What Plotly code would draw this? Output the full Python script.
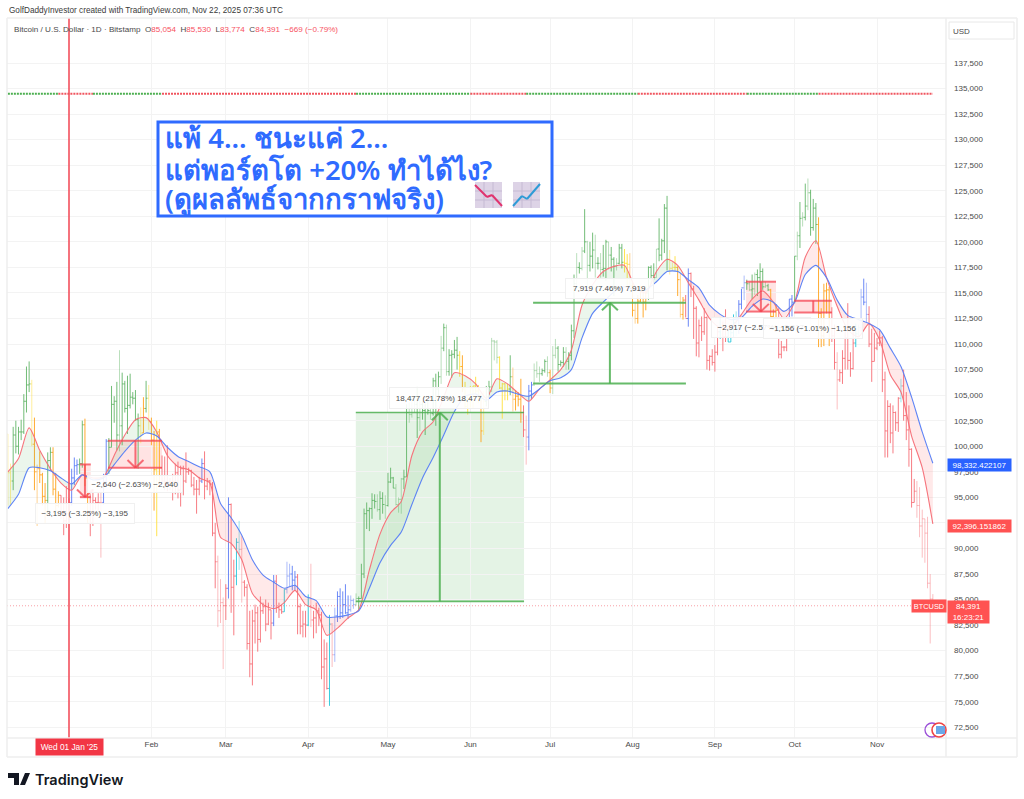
import pandas as pd
import plotly.graph_objects as go

# ---- daily bars, prices in thousands of USD, Dec 9 2024 .. Nov 22 2025 ----
OPEN_K = [
101.2,97.4,96.6,101.1,100.0,101.4,101.4,104.4,106.0,106.1,100.2,97.5,97.8,97.2,95.1,94.7,98.6,99.4,95.8,94.2,95.2,93.6,92.7,
93.4,94.5,96.9,98.1,98.2,98.3,102.1,96.9,95.0,92.5,94.7,94.5,94.5,94.5,96.5,100.5,99.9,104.1,104.4,101.1,102.0,106.1,103.7,104.0,104.8,104.7,102.6,102.0,101.3,103.7,104.7,
102.4,100.6,97.7,101.4,97.9,96.6,96.5,96.5,96.5,96.5,97.4,95.7,97.8,96.6,97.5,97.6,96.2,95.8,95.8,96.6,98.3,96.1,96.6,96.3,91.5,88.7,83.9,84.7,
84.4,86.1,94.3,86.2,87.3,90.6,89.9,86.7,86.2,80.7,78.7,82.9,83.7,81.1,83.9,84.3,82.6,84.0,82.7,86.8,84.2,84.0,83.8,86.0,87.3,87.5,86.9,87.2,84.3,82.4,82.6,
82.5,85.2,83.0,83.2,83.9,83.5,78.4,79.2,76.3,82.6,79.6,83.4,85.3,83.7,84.5,83.7,84.0,84.9,84.5,85.1,85.1,87.5,93.4,93.7,93.9,94.7,94.6,93.8,94.9,94.3,
94.2,96.5,96.9,95.9,94.3,94.8,96.8,97.0,103.3,103.1,104.8,104.1,102.8,104.1,103.5,103.7,103.5,103.2,106.4,105.6,106.8,109.6,111.6,107.3,108.9,109.0,109.4,108.9,107.8,105.6,103.9,
104.6,105.7,105.9,105.4,104.7,101.5,104.4,105.6,105.8,110.3,110.2,108.7,105.7,106.1,105.4,105.6,106.8,104.6,104.9,104.6,103.3,101.6,100.9,105.4,106.0,107.4,107.1,107.1,107.4,108.3,
107.2,105.7,108.9,109.6,108.0,108.2,109.2,108.3,108.9,111.3,115.9,117.5,117.4,119.1,120.0,117.7,118.6,119.2,117.9,117.9,117.3,117.4,120.0,118.7,118.3,117.6,117.9,119.4,118.0,117.9,117.8,
115.7,113.3,112.5,114.2,115.1,114.1,115.0,117.5,116.7,116.5,119.3,118.7,120.1,123.3,118.3,117.4,117.5,117.5,116.3,112.9,114.3,112.5,116.9,115.4,113.5,110.1,111.8,111.2,112.6,108.4,108.8,
108.2,109.2,111.2,111.7,110.7,110.7,110.2,111.1,112.1,111.5,113.9,115.5,116.0,115.9,115.3,115.4,116.8,116.5,117.1,115.6,115.7,115.3,112.7,111.9,113.3,109.0,109.7,109.7,112.1,114.4,
114.1,118.6,120.6,122.3,122.4,123.5,124.8,121.4,123.3,121.7,113.0,110.8,115.2,115.3,113.1,110.8,108.2,106.5,107.2,108.6,110.6,108.4,107.6,110.1,111.0,111.6,114.6,114.1,112.9,110.0,108.3,
109.6,110.1,110.6,106.5,101.5,103.9,101.3,103.3,102.3,104.7,105.9,103.0,101.6,99.7,94.5,95.6,94.2,92.2,92.9,91.5,86.6,85.054]
HIGH_K = [
101.2,98.3,101.9,102.5,101.9,102.6,105.1,107.8,108.3,106.5,102.8,98.2,99.5,97.4,96.4,99.4,99.9,99.9,97.4,95.6,95.2,95.0,96.1,
94.9,97.8,98.9,98.7,98.8,102.5,102.7,97.2,95.3,95.8,95.0,95.4,95.9,97.3,100.7,100.8,105.9,104.9,106.3,109.4,107.2,106.4,106.9,107.1,105.3,105.5,103.2,103.8,104.8,106.4,106.0,
102.8,101.5,102.5,101.7,99.1,99.0,100.1,96.9,97.3,98.3,98.5,98.1,98.1,99.4,97.9,97.7,97.0,96.7,97.0,98.8,99.5,96.9,96.7,96.5,92.5,89.3,87.0,85.2,
86.5,95.0,94.4,88.9,91.0,92.7,91.2,86.9,86.5,83.9,84.0,84.5,84.3,85.3,84.7,85.0,84.7,84.0,87.4,87.4,84.7,84.5,86.0,88.7,88.5,88.3,87.8,87.5,84.6,83.9,83.9,
85.5,88.5,83.9,84.7,84.2,83.8,81.1,80.8,83.5,82.7,84.2,85.8,86.1,85.8,86.5,85.4,85.4,85.1,85.6,85.3,88.5,93.9,94.5,94.0,95.4,95.3,95.3,95.6,95.5,95.2,
97.4,97.9,97.0,96.3,95.0,96.9,97.7,104.1,104.3,104.9,104.9,105.8,104.9,104.4,104.2,104.5,103.7,106.7,107.1,107.3,110.8,112.0,111.9,109.5,109.4,110.4,110.7,109.3,108.9,106.3,105.0,
105.9,105.9,106.8,106.0,105.0,105.4,105.9,106.4,110.6,110.4,110.4,108.8,106.2,106.2,106.1,108.9,107.7,105.5,105.3,106.6,104.0,103.0,106.0,106.3,108.1,108.3,107.8,107.6,108.5,108.8,
107.5,109.8,110.5,109.8,108.4,109.7,109.7,109.2,111.9,116.8,118.9,118.0,119.5,123.2,120.1,120.0,120.9,120.7,118.5,118.9,119.7,120.2,120.0,119.5,118.5,118.4,119.8,119.8,119.3,118.8,118.9,
116.0,114.1,114.8,115.7,115.1,115.7,117.6,117.7,117.9,119.3,122.3,120.3,123.7,124.5,119.2,118.0,118.6,117.6,116.9,114.6,114.8,117.4,117.0,115.7,113.7,112.4,112.7,113.5,112.7,108.9,109.5,
109.9,111.8,112.6,112.2,113.4,111.3,111.6,112.9,113.2,114.3,115.4,116.7,116.3,116.1,116.8,117.0,117.3,117.9,117.4,116.1,115.9,115.4,113.4,113.9,113.5,110.3,109.8,112.3,114.4,114.8,
118.6,121.0,123.9,122.9,125.7,126.2,125.1,124.2,123.8,122.4,113.5,115.9,116.0,115.6,113.6,111.9,109.2,107.5,109.4,111.7,114.0,109.2,111.3,112.0,111.9,115.4,116.4,116.0,113.7,111.5,111.1,
110.6,111.3,110.8,107.3,104.5,104.2,104.0,103.4,104.8,106.6,107.5,105.3,104.0,99.8,96.8,96.6,96.0,93.8,92.9,93.1,87.5,85.53]
LOW_K = [
94.2,94.3,95.7,99.3,99.2,100.6,101.2,103.3,105.3,100.0,95.7,92.2,96.4,94.2,92.4,93.4,97.6,95.2,93.5,94.0,92.9,91.3,92.0,
92.8,94.2,96.2,97.2,97.3,97.9,96.1,92.5,91.2,92.2,93.8,93.7,89.1,94.3,96.5,97.3,99.9,102.3,99.6,99.5,100.1,103.3,101.2,103.7,104.1,102.5,97.8,100.3,101.3,103.3,101.6,
100.1,93.7,91.2,96.2,96.2,95.7,95.6,95.7,94.7,95.3,94.9,94.1,95.2,96.4,97.2,96.0,95.2,93.4,95.2,96.4,94.8,95.7,95.2,91.2,86.1,82.3,82.7,78.2,
83.0,85.1,83.7,81.5,86.4,87.9,84.7,85.3,80.1,77.4,76.6,80.7,79.9,80.8,83.6,81.9,82.5,81.1,82.4,83.7,83.2,83.6,83.8,85.6,86.3,85.9,85.9,81.6,81.6,81.3,81.3,
82.4,82.3,81.2,81.7,82.4,77.2,74.5,76.2,74.6,78.4,78.9,82.8,83.1,83.2,83.6,83.1,83.8,84.1,84.4,83.9,85.1,87.1,91.9,91.7,92.9,93.9,93.6,92.8,93.4,92.9,
94.1,96.4,95.9,94.2,93.5,93.4,95.8,97.0,102.3,102.8,103.3,100.8,101.5,102.6,101.1,103.1,102.6,103.0,102.0,104.5,106.1,109.3,106.9,106.9,106.7,108.6,107.5,106.8,105.3,103.7,103.1,
103.8,103.7,105.1,104.2,100.4,101.1,103.9,105.0,105.3,108.4,108.1,105.6,102.7,104.5,104.5,105.0,103.4,103.5,103.9,102.3,100.9,98.2,99.6,104.6,105.9,106.7,106.3,106.9,107.2,106.8,
105.2,105.1,108.6,107.3,107.8,107.8,107.5,107.5,108.4,110.6,115.3,116.9,117.2,118.9,115.7,117.1,117.4,116.5,117.3,116.5,116.6,116.2,117.3,117.1,114.7,117.2,117.8,117.4,117.0,115.8,115.6,
112.7,112.0,112.0,114.1,112.6,113.3,114.3,115.9,116.3,116.5,118.1,118.2,118.9,117.2,116.8,117.2,117.2,114.7,112.6,112.4,112.6,111.7,114.6,110.5,108.8,108.7,110.3,110.9,107.5,107.4,107.9,
107.3,108.9,110.5,109.3,110.2,110.2,110.2,110.6,110.8,111.0,113.4,114.3,115.3,115.2,114.4,114.8,114.7,116.0,115.3,115.5,115.2,111.9,111.5,111.1,108.6,108.6,109.3,109.3,111.5,112.7,
114.0,118.2,119.4,121.5,122.1,123.1,120.6,121.1,119.8,109.7,109.7,109.8,113.0,109.8,110.2,107.5,103.6,106.3,106.1,107.5,107.5,106.8,107.5,109.7,110.8,111.3,113.8,112.1,109.7,106.3,108.3,
109.4,109.8,105.3,98.9,98.9,100.3,99.3,101.5,101.4,104.3,102.5,100.6,98.0,94.0,94.5,93.0,91.1,89.1,88.6,86.1,80.7,83.774]
CLOSE_K = [
97.4,96.6,101.1,100.0,101.4,101.4,104.4,106.0,106.1,100.2,97.5,97.8,97.2,95.1,94.7,98.6,99.4,95.8,94.2,95.2,93.6,92.7,93.4,
94.5,96.9,98.1,98.2,98.3,102.1,96.9,95.0,92.5,94.7,94.5,94.5,94.5,96.5,100.5,99.9,104.1,104.4,101.1,102.0,106.1,103.7,104.0,104.8,104.7,102.6,102.0,101.3,103.7,104.7,102.4,
100.6,97.7,101.4,97.9,96.6,96.5,96.5,96.5,96.5,97.4,95.7,97.8,96.6,97.5,97.6,96.2,95.8,95.8,96.6,98.3,96.1,96.6,96.3,91.5,88.7,83.9,84.7,84.4,
86.1,94.3,86.2,87.3,90.6,89.9,86.7,86.2,80.7,78.7,82.9,83.7,81.1,83.9,84.3,82.6,84.0,82.7,86.8,84.2,84.0,83.8,86.0,87.3,87.5,86.9,87.2,84.3,82.4,82.6,82.5,
85.2,83.0,83.2,83.9,83.5,78.4,79.2,76.3,82.6,79.6,83.4,85.3,83.7,84.5,83.7,84.0,84.9,84.5,85.1,85.1,87.5,93.4,93.7,93.9,94.7,94.6,93.8,94.9,94.3,94.2,
96.5,96.9,95.9,94.3,94.8,96.8,97.0,103.3,103.1,104.8,104.1,102.8,104.1,103.5,103.7,103.5,103.2,106.4,105.6,106.8,109.6,111.6,107.3,108.9,109.0,109.4,108.9,107.8,105.6,103.9,104.6,
105.7,105.9,105.4,104.7,101.5,104.4,105.6,105.8,110.3,110.2,108.7,105.7,106.1,105.4,105.6,106.8,104.6,104.9,104.6,103.3,101.6,100.9,105.4,106.0,107.4,107.1,107.1,107.4,108.3,107.2,
105.7,108.9,109.6,108.0,108.2,109.2,108.3,108.9,111.3,115.9,117.5,117.4,119.1,120.0,117.7,118.6,119.2,117.9,117.9,117.3,117.4,120.0,118.7,118.3,117.6,117.9,119.4,118.0,117.9,117.8,115.7,
113.3,112.5,114.2,115.1,114.1,115.0,117.5,116.7,116.5,119.3,118.7,120.1,123.3,118.3,117.4,117.5,117.5,116.3,112.9,114.3,112.5,116.9,115.4,113.5,110.1,111.8,111.2,112.6,108.4,108.8,108.2,
109.2,111.2,111.7,110.7,110.7,110.2,111.1,112.1,111.5,113.9,115.5,116.0,115.9,115.3,115.4,116.8,116.5,117.1,115.6,115.7,115.3,112.7,111.9,113.3,109.0,109.7,109.7,112.1,114.4,114.1,
118.6,120.6,122.3,122.4,123.5,124.8,121.4,123.3,121.7,113.0,110.8,115.2,115.3,113.1,110.8,108.2,106.5,107.2,108.6,110.6,108.4,107.6,110.1,111.0,111.6,114.6,114.1,112.9,110.0,108.3,109.6,
110.1,110.6,106.5,101.5,103.9,101.3,103.3,102.3,104.7,105.9,103.0,101.6,99.7,94.5,95.6,94.2,92.2,92.9,91.5,86.6,85.05,84.391]
# one letter per day: G green, Y yellow, O orange, R red, B blue, C cyan; lower case = paler bar
BAR_COLOURS = (
"yyGGGGGGGyOoOOOGGOOORRR"
"RBBBGGOORRRRrBBGGGGgGGGGGGGyOGy"
"OOYORRRRRRRRRRRRRRRBRRRRRrrr"
"RBRRCcrRRRRRRRRRRRBRRRCbbBBRRRR"
"CrRRRRRRCrbBBBBBbbgGGGGGGGgGGg"
"GGGgggGGgggGgGGGgGGGgGgGGGGYOYY"
"YYYYOyGGgggYYYYGoOOORrBBgggGGg"
"OggGGGgGGGgGgGgGGgGgGGgGGgGGYYo"
"OoOOOOGGGgGGGGyyYOoORBRRRRRRRRR"
"RRCRRCCCcBBbGgGgGGGgGOOORRRRBB"
"GgGgGgGGGOOOOORRrRRRRRRCcbBbRRR"
"RRRRRRRRRcRRRRRrrrrrrr")
# moving averages, read every 4th day from Dec 9, thousands of USD
FAST_K = [97.5,98.8,101.8,99.6,97.8,96.4,95.7,97.2,96.9,97.0,99.1,101.1,102.6,102.8,101.4,99.1,98.0,97.7,96.9,96.4,91.1,90.5,88.9,85.6,84.5,84.1,84.7,85.9,84.5,84.0,81.5,82.2,83.2,84.0,87.9,91.4,93.5,94.6,99.1,101.4,102.4,104.8,107.2,106.9,106.1,104.7,106.6,106.1,105.2,104.4,105.6,106.5,107.5,109.4,113.8,115.8,117.1,117.6,117.7,115.6,115.0,117.1,118.3,117.7,116.0,114.3,112.5,111.6,111.6,112.9,114.4,115.2,114.1,112.5,114.1,118.5,120.1,116.5,113.7,111.4,110.7,112.0,110.4,107.0,105.3,101.0,97.9,92.396]
SLOW_K = [93.9,95.3,97.9,97.9,97.6,96.9,96.3,97.2,96.7,96.9,98.2,99.5,100.6,101.3,101.0,99.9,99.0,98.5,98.0,97.5,94.4,93.0,91.3,88.9,87.4,86.7,86.1,86.4,85.3,84.9,83.3,83.3,83.5,83.9,86.1,88.6,90.3,91.6,94.3,96.9,98.9,101.1,103.4,104.9,105.1,104.5,105.3,105.4,105.1,104.9,105.6,106.4,106.7,107.5,110.6,113.0,114.1,115.1,115.6,115.3,115.3,116.1,117.1,117.1,116.3,115.5,113.8,112.9,112.4,112.6,113.7,114.4,114.1,113.2,114.1,116.8,117.7,116.5,114.3,112.8,112.4,112.0,111.4,109.6,107.8,104.8,101.4,98.332]
# alert dots, (first day, last day, colour) as dates
ALERT_PRICE_K = 134.5
ALERT_SEGMENTS = [("2024-12-09","2024-12-28","g"),("2024-12-28","2025-01-10","r"),("2025-01-10","2025-02-05","g"),("2025-02-05","2025-04-19","r"),("2025-04-19","2025-06-01","g"),("2025-06-01","2025-06-22","r"),("2025-06-22","2025-08-03","g"),("2025-08-03","2025-09-13","r"),("2025-09-13","2025-10-10","g"),("2025-10-10","2025-11-22","r")]
MONTH_TICKS = ["2025-02-01","2025-03-01","2025-04-01","2025-05-01","2025-06-01","2025-07-01","2025-08-01","2025-09-01","2025-10-01","2025-11-01"]
MONTH_LABELS = ["Feb","Mar","Apr","May","Jun","Jul","Aug","Sep","Oct","Nov"]
PRICE_TICKS = list(range(72500, 140000, 2500))
LAST_PRICE = 84391
FAST_LAST, SLOW_LAST = "92,396.151862", "98,332.422107"
# position tools: start day, end day, arrow day, top, bottom (days counted from Jan 1 2025)
TOOLS = [
 dict(a=4.1,b=8.2,m=6,top=98.22,bot=95.02,kind="short",label="−3,195 (−3.25%) −3,195",lx=6,ly=93.42,w=96,h=17),
 dict(a=14.7,b=35,m=25,top=100.54,bot=97.9,kind="short",label="−2,640 (−2.63%) −2,640",lx=25,ly=96.3,w=92,h=14),
 dict(a=107.9,b=171.2,m=139.5,top=103.3,bot=84.82,kind="longfill",label="18,477 (21.78%) 18,477",lx=139.2,ly=104.72,w=96,h=18),
 dict(a=174.6,b=232.1,m=203.5,top=114.05,bot=106.13,kind="long",label="7,919 (7.46%) 7,919",lx=203.4,ly=115.4,w=85,h=17),
 dict(a=254.7,b=266,m=260.3,top=116.1,bot=113.18,kind="short",label="−2,917 (−2.57%) −2,917",lx=260.3,ly=111.6,w=96,h=17),
 dict(a=272.8,b=287,m=280,top=114.24,bot=113.08,kind="flat",label="−1,156 (−1.01%) −1,156",lx=280,ly=111.5,w=96,h=17),
]
TITLE_LINES = ["แพ้ 4... ชนะแค่ 2...", "แต่พอร์ตโต +20% ทำได้ไง?", "(ดูผลลัพธ์จากกราฟจริง)"]

BLUE, RED_TAG = "#2962ff", "#ff5252"
FONT = "Liberation Sans"
TXT = "#4a4a4a"
PAL = {"G":"rgba(90,178,96,0.85)","Y":"rgba(255,224,60,0.9)","O":"rgba(255,167,38,0.95)","R":"rgba(246,110,118,0.9)","B":"rgba(92,124,245,0.9)","C":"rgba(38,198,218,0.9)"}
LIGHT = {"G":"rgba(90,178,96,0.42)","Y":"rgba(255,224,60,0.5)","O":"rgba(255,167,38,0.5)","R":"rgba(246,110,118,0.45)","B":"rgba(92,124,245,0.5)","C":"rgba(38,198,218,0.45)"}

JAN1 = pd.Timestamp("2025-01-01")
DAYS = pd.date_range("2024-12-09", periods=len(CLOSE_K), freq="D")
def d2s(day):
    return (JAN1 + pd.Timedelta(days=float(day))).strftime("%Y-%m-%d %H:%M")

# page pixel <-> plot area
L, R, T, B = 7, 946, 18, 738
PXPD = 2.658
YK = 0.01022
def X(px): return (px - L) / (R - L)
def Y(py): return (B - py) / (B - T)
xrange_ = [d2s((L - 69) / PXPD), d2s((R - 69) / PXPD)]
yrange_ = [72500 + (727.3 - B) / YK, 72500 + (727.3 - T) / YK]

fig = go.Figure()

# bands between the two averages
ma_dates = [d.to_pydatetime() for d in DAYS[::4]]
if DAYS[-1] != DAYS[::4][-1]:
    ma_dates.append(DAYS[-1].to_pydatetime())
ma_num = [(pd.Timestamp(d) - JAN1).total_seconds() / 86400 for d in ma_dates]
def band(xs, f, s):
    col = "rgba(76,175,80,0.11)" if f[len(f) // 2] >= s[len(s) // 2] else "rgba(255,82,82,0.13)"
    fig.add_trace(go.Scatter(x=[d2s(v) for v in xs + xs[::-1]], y=[v * 1000 for v in f + s[::-1]], mode="lines",
                             line=dict(width=0), fill="toself", fillcolor=col, hoverinfo="skip", showlegend=False))
run_x, run_f, run_s = [ma_num[0]], [FAST_K[0]], [SLOW_K[0]]
for i in range(1, len(ma_num)):
    d0, d1 = FAST_K[i-1] - SLOW_K[i-1], FAST_K[i] - SLOW_K[i]
    if d0 * d1 < 0:
        t = d0 / (d0 - d1)
        cx = ma_num[i-1] + t * (ma_num[i] - ma_num[i-1])
        cy = FAST_K[i-1] + t * (FAST_K[i] - FAST_K[i-1])
        run_x.append(cx); run_f.append(cy); run_s.append(cy)
        band(run_x, run_f, run_s)
        run_x, run_f, run_s = [cx], [cy], [cy]
    run_x.append(ma_num[i]); run_f.append(FAST_K[i]); run_s.append(SLOW_K[i])
band(run_x, run_f, run_s)

# bars, one trace per colour
for code in "GgYyOoRrBbCc":
    col = PAL[code] if code.isupper() else LIGHT[code.upper()]
    pick = [c == code for c in BAR_COLOURS]
    def sel(a):
        return [v * 1000 if p else None for v, p in zip(a, pick)]
    fig.add_trace(go.Ohlc(x=DAYS, open=sel(OPEN_K), high=sel(HIGH_K), low=sel(LOW_K), close=sel(CLOSE_K),
                          increasing=dict(line=dict(color=col, width=1)), decreasing=dict(line=dict(color=col, width=1)),
                          tickwidth=0.5, hoverinfo="skip", showlegend=False))

fig.add_trace(go.Scatter(x=ma_dates, y=[v * 1000 for v in FAST_K], mode="lines", line=dict(color="rgba(246,110,118,0.95)", width=1.1, shape="spline", smoothing=0.7), hoverinfo="skip", showlegend=False))
fig.add_trace(go.Scatter(x=ma_dates, y=[v * 1000 for v in SLOW_K], mode="lines", line=dict(color="rgba(85,125,245,0.95)", width=1.1, shape="spline", smoothing=0.7), hoverinfo="skip", showlegend=False))

for a, b, c in ALERT_SEGMENTS:
    fig.add_trace(go.Scatter(x=[a, b], y=[ALERT_PRICE_K * 1000] * 2, mode="lines",
                             line=dict(color="#4caf50" if c == "g" else "#f0555f", width=2, dash="2px,1px"), hoverinfo="skip", showlegend=False))

shapes, notes = [], []
def dline(x0, y0, x1, y1, col, w, layer="above"):
    shapes.append(dict(type="line", xref="x", yref="y", x0=d2s(x0), x1=d2s(x1), y0=y0 * 1000, y1=y1 * 1000, line=dict(color=col, width=w), layer=layer))

# position tools
for t in TOOLS:
    up = t["kind"] in ("long", "longfill")
    col = "rgba(76,175,80,0.85)" if up else "rgba(244,67,80,0.75)"
    fill = {"short": "rgba(255,82,82,0.16)", "flat": "rgba(255,82,82,0.18)", "longfill": "rgba(76,175,80,0.15)", "long": "rgba(76,175,80,0)"}[t["kind"]]
    shapes.append(dict(type="rect", xref="x", yref="y", x0=d2s(t["a"]), x1=d2s(t["b"]), y0=t["bot"] * 1000, y1=t["top"] * 1000, fillcolor=fill, line=dict(width=0), layer="below"))
    w = 1.6 if t["kind"] == "longfill" else 2
    dline(t["a"], t["top"], t["b"], t["top"], col, w)
    dline(t["a"], t["bot"], t["b"], t["bot"], col, w)
    dline(t["m"], t["bot"], t["m"], t["top"], col, 2)
    if t["kind"] != "flat":
        tip = t["top"] if up else t["bot"]
        back = tip - 0.75 if up else tip + 0.75
        dline(t["m"] - 3, back, t["m"], tip, col, 2)
        dline(t["m"] + 3, back, t["m"], tip, col, 2)
    notes.append(dict(xref="x", yref="y", x=d2s(t["lx"]), y=t["ly"] * 1000, text=t["label"], showarrow=False, width=t["w"], height=t["h"],
                      bgcolor="rgba(255,255,255,0.9)", bordercolor="#f0f0f0", borderwidth=1, font=dict(family=FONT, size=8, color=TXT)))

# crosshair and last price line
shapes.append(dict(type="line", xref="x", yref="paper", x0=d2s(0), x1=d2s(0), y0=0, y1=1, line=dict(color="rgba(242,80,92,0.8)", width=2), layer="above"))
shapes.append(dict(type="line", xref="paper", yref="y", x0=0, x1=1, y0=LAST_PRICE, y1=LAST_PRICE, line=dict(color="rgba(244,67,80,0.5)", width=1, dash="1px,2px"), layer="above"))

# frame
FRAME = "#eeeeee"
for x0, y0, x1, y1 in [(7,18,1017,18),(7,18,7,757),(7,757,1017,757),(1017,18,1017,757),(946,18,946,757),(7,738,1017,738)]:
    shapes.append(dict(type="line", xref="paper", yref="paper", x0=X(x0), x1=X(x1), y0=Y(y0), y1=Y(y1), line=dict(color=FRAME, width=1.5), layer="above"))
shapes.append(dict(type="rect", xref="paper", yref="paper", x0=X(949), x1=X(1014), y0=Y(22), y1=Y(39), line=dict(color="#e8e8e8", width=1), fillcolor="white", layer="above"))

# headline box
shapes.append(dict(type="rect", xref="paper", yref="paper", x0=X(158), x1=X(552), y0=Y(122), y1=Y(216), line=dict(color="#2f6bff", width=3), fillcolor="white", layer="above"))
def icon(x0, pts, col):
    shapes.append(dict(type="rect", xref="paper", yref="paper", x0=X(x0), x1=X(x0 + 27), y0=Y(182), y1=Y(208), line=dict(width=0), fillcolor="#ddd3e6", layer="above"))
    for k in (1, 2):
        shapes.append(dict(type="line", xref="paper", yref="paper", x0=X(x0 + 9 * k), x1=X(x0 + 9 * k), y0=Y(182), y1=Y(208), line=dict(color="#c5bad3", width=1), layer="above"))
        shapes.append(dict(type="line", xref="paper", yref="paper", x0=X(x0), x1=X(x0 + 27), y0=Y(182 + 9 * k), y1=Y(182 + 9 * k), line=dict(color="#c5bad3", width=1), layer="above"))
    for (a, b), (c, d) in zip(pts, pts[1:]):
        shapes.append(dict(type="line", xref="paper", yref="paper", x0=X(x0 + a), x1=X(x0 + c), y0=Y(182 + b), y1=Y(182 + d), line=dict(color=col, width=2), layer="above"))
icon(475, [(0, 3), (12, 15), (17, 13), (27, 24)], "#e0336e")
icon(513, [(0, 24), (9, 14), (14, 17), (27, 2)], "#2e9bd6")

# badges on the price scale
def badge(y, text, col, w=63, h=12):
    notes.append(dict(xref="paper", yref="paper", x=X(947), y=Y(y), xanchor="left", yanchor="top", text=text, showarrow=False, width=w, height=h,
                      bgcolor=col, align="center", font=dict(family=FONT, size=8, color="white"), borderpad=0))
badge(458, SLOW_LAST, BLUE)
badge(519, FAST_LAST, RED_TAG)
badge(600, f"{LAST_PRICE:,}<br>16:23:21", RED_TAG, w=41, h=22)
notes.append(dict(xref="paper", yref="paper", x=X(929), y=Y(606), text="BTCUSD", showarrow=False, width=34, height=12, bgcolor=RED_TAG, font=dict(family=FONT, size=7.4, color="white"), borderpad=0))
notes.append(dict(xref="x", yref="paper", x=d2s(0), y=Y(747), text="Wed 01 Jan '25", showarrow=False, width=67, height=16, bgcolor="#f23645", font=dict(family=FONT, size=8.3, color="white"), borderpad=0))
notes.append(dict(xref="paper", yref="paper", x=X(962), y=Y(31), text="USD", showarrow=False, font=dict(family=FONT, size=8, color=TXT)))
notes.append(dict(xref="paper", yref="paper", x=X(7), y=Y(10), xanchor="left", text="GolfDaddyInvestor created with TradingView.com, Nov 22, 2025 07:36 UTC", showarrow=False, font=dict(family=FONT, size=8.2, color="#3a3a3a")))
ohlc = "".join(f'<span style="color:#4a4a4a">{k}</span><span style="color:#f7525f">{v}</span>  ' for k, v in [("O", "85,054"), ("H", "85,530"), ("L", "83,774"), ("C", "84,391")])
notes.append(dict(xref="paper", yref="paper", x=X(12), y=Y(29.5), xanchor="left", showarrow=False,
                  text=f'Bitcoin / U.S. Dollar · 1D · Bitstamp  {ohlc}<span style="color:#f7525f">−669 (−0.79%)</span>', font=dict(family=FONT, size=8.1, color=TXT)))
for line, yy in zip(TITLE_LINES, (138, 169, 198)):
    notes.append(dict(xref="paper", yref="paper", x=X(163), y=Y(yy), xanchor="left", text=line, showarrow=False, font=dict(family="Noto Sans, DejaVu Sans", size=27.5, color="#2f6bff", weight=600)))

# footer wordmark and badge glyphs
shapes.append(dict(type="path", xref="paper", yref="paper", line=dict(width=0), fillcolor="#131722", layer="above",
                   path=f"M {X(8)} {Y(773)} H {X(19)} V {Y(785)} H {X(14)} V {Y(778)} H {X(8)} Z M {X(25)} {Y(773)} H {X(30)} L {X(25)} {Y(785)} H {X(20)} Z"))
notes.append(dict(xref="paper", yref="paper", x=X(33), y=Y(779), xanchor="left", text="TradingView", showarrow=False, font=dict(family="Inter", size=14.5, color="#131722", weight=600)))
shapes.append(dict(type="circle", xref="paper", yref="paper", x0=X(925), x1=X(939), y0=Y(723), y1=Y(737), line=dict(color="#9a4fd8", width=1.3), layer="above"))
shapes.append(dict(type="circle", xref="paper", yref="paper", x0=X(932), x1=X(946), y0=Y(723), y1=Y(737), line=dict(color="#ef4444", width=1.6), fillcolor="white", layer="above"))
shapes.append(dict(type="rect", xref="paper", yref="paper", x0=X(936), x1=X(945), y0=Y(726), y1=Y(734), line=dict(width=0), fillcolor="#6aa8e8", layer="above"))

for n in notes:
    n.setdefault("xanchor", "center")
    n.setdefault("yanchor", "middle")

fig.update_layout(
    width=1024, height=799, margin=dict(l=L, r=1024 - R, t=T, b=799 - B), paper_bgcolor="white", plot_bgcolor="white",
    showlegend=False, shapes=shapes, annotations=notes, hovermode=False,
    xaxis=dict(type="date", range=xrange_, rangeslider=dict(visible=False), tickmode="array", tickvals=MONTH_TICKS, ticktext=MONTH_LABELS,
               showgrid=True, gridcolor="#f3f3f3", gridwidth=1, zeroline=False, ticks="", showline=False,
               tickfont=dict(family=FONT, size=8, color=TXT)),
    yaxis=dict(side="right", range=yrange_, tickmode="array", tickvals=PRICE_TICKS, ticktext=[f"{v:,}" for v in PRICE_TICKS],
               showgrid=True, gridcolor="#f3f3f3", gridwidth=1, zeroline=False, ticks="", showline=False, ticklabelstandoff=7,
               tickfont=dict(family=FONT, size=8, color=TXT)),
)
fig.write_html("out.html", config=dict(displayModeBar=False), post_script="document.body.style.margin='0'")
